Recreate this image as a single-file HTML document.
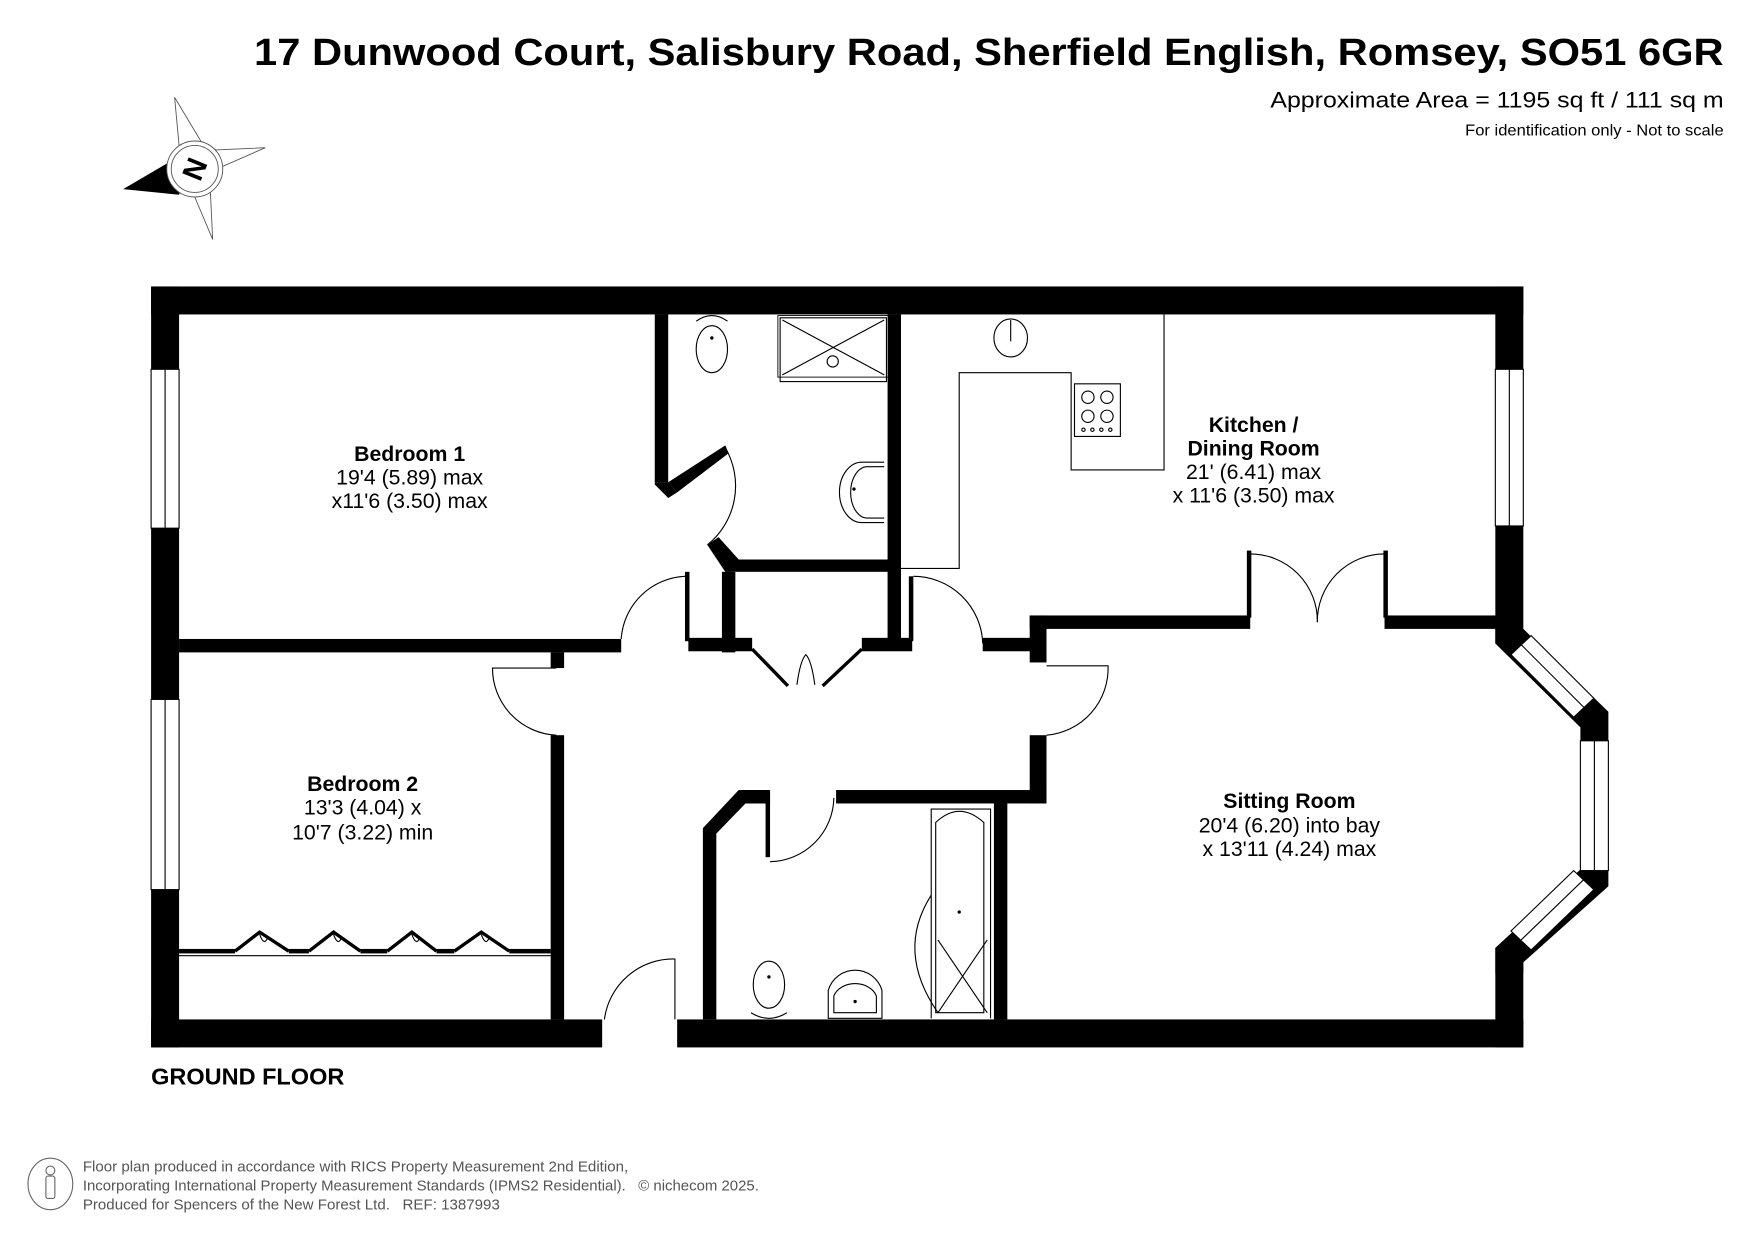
<!DOCTYPE html>
<html><head><meta charset="utf-8"><style>
html,body{margin:0;padding:0;background:#fff;}
svg{display:block;}
text{font-family:"Liberation Sans",Arial,sans-serif;}
</style></head><body>
<svg width="1755" height="1241" viewBox="0 0 1568 1109" preserveAspectRatio="none" xmlns="http://www.w3.org/2000/svg">
<rect width="1568" height="1109" fill="#fff"/>
<text x="1540" y="58" text-anchor="end" font-size="34" font-weight="bold" textLength="1313" lengthAdjust="spacingAndGlyphs">17 Dunwood Court, Salisbury Road, Sherfield English, Romsey, SO51 6GR</text>
<text x="1540" y="96" text-anchor="end" font-size="20" textLength="405" lengthAdjust="spacingAndGlyphs">Approximate Area = 1195 sq ft / 111 sq m</text>
<text x="1540" y="121" text-anchor="end" font-size="14" textLength="231" lengthAdjust="spacingAndGlyphs">For identification only - Not to scale</text>
<g stroke="#555" stroke-width="0.8" fill="none">
<polygon points="156,87 180,127 193,134 237,132 196,150 188,172 190,214 174,176 150,170 160,130"/>
</g>
<polygon points="110,169 163,138 160,174" fill="#000"/>
<circle cx="174" cy="151" r="25" fill="#fff" stroke="#555" stroke-width="0.8"/>
<circle cx="174" cy="151" r="21" fill="#fff" stroke="#555" stroke-width="0.8"/>
<text x="174" y="160" text-anchor="middle" font-size="26" font-weight="bold" transform="rotate(-68 174 151)">N</text>

<g fill="#000">
<rect x="135" y="256" width="1226" height="25"/>
<rect x="135" y="256" width="25" height="680"/>
<rect x="135" y="911" width="403" height="25"/>
<rect x="605" y="911" width="756" height="25"/>
<rect x="1336" y="256" width="25" height="319"/>
<rect x="1336" y="847" width="25" height="89"/>
<polygon points="1336,562 1361,562 1437,636 1437,792 1361,860 1361,870 1336,870 1336,847 1412,777 1412,650 1336,575"/>
</g>
<g fill="#fff" stroke="#000" stroke-width="1">
<rect x="135" y="330" width="25" height="142"/><line x1="147.5" y1="330" x2="147.5" y2="472"/>
<rect x="135" y="625" width="25" height="170"/><line x1="147.5" y1="625" x2="147.5" y2="795"/>
<rect x="1336" y="330" width="25" height="140"/><line x1="1348.5" y1="330" x2="1348.5" y2="470"/>
<rect x="1412" y="662" width="25" height="116"/><line x1="1424.5" y1="662" x2="1424.5" y2="778"/>
<polygon points="1350,585 1368,568 1424,624 1406,641"/><line x1="1359" y1="576" x2="1415" y2="632"/>
<polygon points="1350,832 1368,849 1424,795 1406,778"/><line x1="1359" y1="840" x2="1415" y2="786"/>
</g>

<g fill="#000">
<rect x="160" y="571" width="395" height="12"/>
<rect x="492" y="583" width="12" height="14"/>
<rect x="492" y="657" width="12" height="254"/>
<rect x="585" y="281" width="12" height="150"/>
<polygon points="585,431 597,431 605,440 597,445 585,433"/>
<polygon points="597,431 648,398 651,405 605,440"/>
<polygon points="632,487 642,480 660,500 655,511 648,511"/>
<rect x="655" y="500" width="150" height="11"/>
<rect x="645" y="511" width="12" height="72"/>
<rect x="612" y="511" width="4" height="62"/>
<rect x="615" y="570" width="57" height="12"/>
<rect x="770" y="570" width="45" height="12"/>
<rect x="793" y="281" width="12" height="300"/>
<rect x="812" y="515" width="4" height="58"/>
<rect x="878" y="570" width="45" height="12"/>
<rect x="920" y="550" width="15" height="42"/>
<rect x="920" y="657" width="15" height="61"/>
<rect x="920" y="550" width="197" height="12"/>
<rect x="1237" y="550" width="100" height="12"/>
<rect x="1114" y="492" width="4" height="60"/>
<rect x="1236" y="492" width="4" height="60"/>
<rect x="747" y="706" width="188" height="12"/>
<polygon points="628,740 660,706 688,706 688,718 666,718 640,745 640,911 628,911"/>
<rect x="684" y="706" width="4" height="60"/>
<rect x="888" y="718" width="12" height="193"/>
<rect x="160" y="848" width="50" height="4"/>
<rect x="258" y="848" width="18" height="4"/>
<rect x="322" y="848" width="24" height="4"/>
<rect x="390" y="848" width="16" height="4"/>
<rect x="455" y="848" width="37" height="4"/>
</g>
<g fill="none" stroke="#000" stroke-width="1">
<line x1="160" y1="854" x2="492" y2="854"/>
<polyline points="210,850 232,833 258,850" stroke-width="3"/>
<polyline points="276,850 298,833 322,850" stroke-width="3"/>
<polyline points="346,850 368,833 390,850" stroke-width="3"/>
<polyline points="406,850 430,833 455,850" stroke-width="3"/>
<path d="M232,835 Q236,846 239,838 M298,835 Q302,846 305,838 M368,835 Q372,846 375,838 M430,835 Q434,846 437,838"/>
<path d="M648,400 A68,68 0 0 1 632,487"/>
<path d="M555,571 A60,60 0 0 1 612,515"/>
<path d="M497,657 A60,60 0 0 1 440,597 L497,597"/>
<path d="M816,515 A62,62 0 0 1 878,575"/>
<path d="M935,595 L990,595 A60,60 0 0 1 935,657"/>
<path d="M688,770 A58,58 0 0 0 745,713"/>
<path d="M540,911 A62,62 0 0 1 603,857 L603,911"/>
<path d="M1117,495 A60,60 0 0 1 1177,556"/>
<path d="M1237,495 A60,60 0 0 0 1177,556"/>
<line x1="672" y1="580" x2="704" y2="613" stroke-width="3"/>
<line x1="770" y1="580" x2="735" y2="613" stroke-width="3"/>
<path d="M712,612 Q715,590 720,585 Q725,590 728,612"/>
<polyline points="1040,281 1040,420 957,420 957,333 857,333 857,508 805,508"/>
<rect x="960" y="343" width="41" height="47"/>
<circle cx="972" cy="355" r="5.5"/><circle cx="989" cy="355" r="5.5"/>
<circle cx="972" cy="372" r="5.5"/><circle cx="989" cy="372" r="5.5"/>
<circle cx="968" cy="384" r="1.5"/><circle cx="976" cy="384" r="1.5"/><circle cx="984" cy="384" r="1.5"/><circle cx="992" cy="384" r="1.5"/>
<ellipse cx="903" cy="302" rx="15" ry="17"/>
<line x1="903" y1="286" x2="903" y2="305"/>
<rect x="697" y="284" width="95" height="57"/>
<rect x="695" y="282" width="99" height="55" stroke-width="0.8"/>
<line x1="699" y1="286" x2="790" y2="335"/><line x1="790" y1="286" x2="699" y2="335"/>
<circle cx="744" cy="323" r="5"/>
<ellipse cx="636" cy="312" rx="14" ry="21"/>
<path d="M622,287 Q636,277 650,287"/>
<path d="M790,417 L775,417 A15,23 0 0 0 775,463 L790,463"/>
<path d="M790,413 L770,413 A20,27 0 0 0 770,467 L790,467"/>
<path d="M836,905 L836,735 Q857,715 879,735 L879,905 Z"/>
<path d="M832,910 L832,723 L885,723 L885,910"/>
<path d="M832,800 Q800,850 838,905"/>
<line x1="838" y1="840" x2="882" y2="905"/><line x1="882" y1="840" x2="838" y2="905"/>
<ellipse cx="687" cy="880" rx="14" ry="21"/>
<path d="M671,905 Q687,915 703,905"/>
<path d="M740,910 L740,885 A25,25 0 0 1 788,885 L788,910 Z"/>
<path d="M745,905 L745,890 A20,16 0 0 1 783,890 L783,905 Z"/>
</g>
<g fill="#000"><circle cx="636" cy="302" r="1.5"/><circle cx="763" cy="437" r="1.5"/><circle cx="857" cy="815" r="1.5"/><circle cx="764" cy="895" r="1.5"/><circle cx="687" cy="873" r="1.5"/></g>

<g font-size="19" text-anchor="middle">
<text x="366" y="412" font-weight="bold">Bedroom 1</text>
<text x="366" y="433">19'4 (5.89) max</text>
<text x="366" y="454">x11'6 (3.50) max</text>
<text x="324" y="707" font-weight="bold">Bedroom 2</text>
<text x="324" y="728">13'3 (4.04) x</text>
<text x="324" y="750">10'7 (3.22) min</text>
<text x="1120" y="386" font-weight="bold">Kitchen /</text>
<text x="1120" y="407" font-weight="bold">Dining Room</text>
<text x="1120" y="428">21' (6.41) max</text>
<text x="1120" y="449">x 11'6 (3.50) max</text>
<text x="1152" y="722" font-weight="bold">Sitting Room</text>
<text x="1152" y="744">20'4 (6.20) into bay</text>
<text x="1152" y="765">x 13'11 (4.24) max</text>
</g>
<text x="135" y="969" font-size="21" font-weight="bold">GROUND FLOOR</text>

<ellipse cx="45" cy="1058" rx="20" ry="23" fill="none" stroke="#666" stroke-width="1"/>
<circle cx="45" cy="1046" r="4" fill="none" stroke="#666" stroke-width="1"/>
<rect x="41" y="1051" width="8" height="20" rx="2" fill="none" stroke="#666" stroke-width="1"/>
<g font-size="13.5" fill="#555">
<text x="74" y="1047">Floor plan produced in accordance with RICS Property Measurement 2nd Edition,</text>
<text x="74" y="1064" textLength="604" lengthAdjust="spacingAndGlyphs" xml:space="preserve">Incorporating International Property Measurement Standards (IPMS2 Residential).   © nichecom 2025.</text>
<text x="74" y="1081" xml:space="preserve">Produced for Spencers of the New Forest Ltd.   REF: 1387993</text>
</g>
</svg>
</body></html>
